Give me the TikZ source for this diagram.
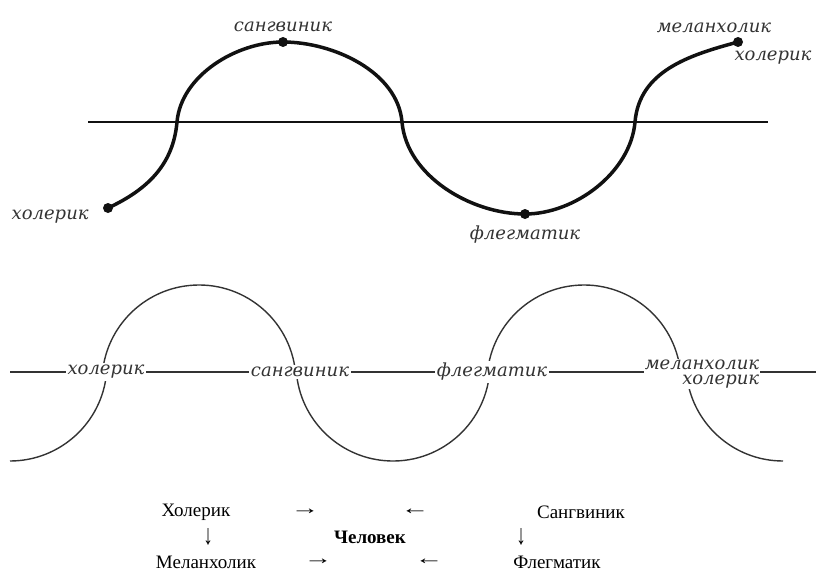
\documentclass[tikz,border=0pt]{standalone}
\usepackage{fontspec}
\setmainfont{Liberation Serif}
\newfontfamily\tempfont{DejaVu Serif}
\usepackage{xcolor}
\usetikzlibrary{positioning}
\definecolor{tempink}{HTML}{111111}
\definecolor{tempgray}{HTML}{333333}

\begin{document}
\begin{tikzpicture}[x=1pt,y=1pt,
  dot/.style={circle,fill=tempink,inner sep=0pt,minimum size=10pt},
  wave/.style={tempink,line width=3.5pt},
  axisline/.style={tempink,line width=2pt},
  lbl/.style={font=\tempfont\itshape\fontsize{18}{15}\selectfont,text=tempgray,inner sep=1pt},
  tag/.style={lbl,fill=white,inner sep=2pt},
  arcline/.style={tempgray,line width=1.4pt},
  word/.style={font=\fontsize{19}{19}\selectfont,text=black,inner sep=0pt}]
  \useasboundingbox (0,0) rectangle (816,-575);
  \coordinate (axl) at (88,-122);
  \coordinate (axr) at (768,-122);
  \draw[axisline] (axl) -- (axr);
  \node[dot] (chol) at (108,-208) {};
  \node[dot] (sang) at (283,-42) {};
  \node[dot] (fleg) at (525,-214) {};
  \node[dot] (mel) at (738,-42) {};
  \coordinate (c1) at (177,-122);
  \coordinate (c2) at (402,-122);
  \coordinate (c3) at (635,-122);
  \draw[wave] (chol.center) to[out=25,in=-95] (c1) to[out=85,in=180,looseness=0.9] (sang.center)
    to[out=0,in=95,looseness=0.9] (c2) to[out=-85,in=180,looseness=0.9] (fleg.center)
    to[out=0,in=-95,looseness=0.9] (c3) to[out=85,in=195] (mel.center);
  \node[lbl,left=13pt of chol,yshift=-9pt] (lchol) {холерик};
  \node[lbl,above=4pt of sang] (lsang) {сангвиник};
  \node[lbl,below=5pt of fleg] (lfleg) {флегматик};
  \node[lbl,above=3pt of mel,xshift=-24pt] (lmel) {меланхолик};
  \node[lbl,below=3pt of mel,xshift=35pt] (lchol2) {холерик};

  \coordinate (ml) at (10,-372);
  \coordinate (mr) at (816,-372);
  \draw[arcline] (ml) -- (mr);
  \draw[arcline] (199,-382) ++(6:97) arc[start angle=6,end angle=174,radius=97];
  \draw[arcline] (584,-382) ++(6:97) arc[start angle=6,end angle=174,radius=97];
  \draw[arcline] (10,-364) ++(-5:97) arc[start angle=-5,end angle=-90,radius=97];
  \draw[arcline] (393,-364) ++(-5:97) arc[start angle=-5,end angle=-175,radius=97];
  \draw[arcline] (783,-364) ++(-175:97) arc[start angle=-175,end angle=-90,radius=97];
  \node[tag] (t1) at (106,-372) {холерик};
  \node[tag] (t2) at (300,-372) {сангвиник};
  \node[tag] (t3) at (492,-372) {флегматик};
  \node[tag,align=right,inner sep=1pt] (t4) at (702,-374) {меланхолик\\холерик};

  \node[word] (w1) at (196,-512) {Холерик};
  \node[word] (a1) at (305,-512) {\scalebox{1.5}[1]{→}};
  \node[word] (a2) at (415,-512) {\scalebox{1.5}[1]{←}};
  \node[word] (w2) at (581,-512) {Сангвиник};
  \node[word] (d1) at (208,-537) {\scalebox{1}[1.5]{↓}};
  \node[word,font=\bfseries\fontsize{19}{19}\selectfont] (man) at (370,-537) {Человек};
  \node[word] (d2) at (521,-537) {\scalebox{1}[1.5]{↓}};
  \node[word] (w3) at (206,-562) {Меланхолик};
  \node[word] (a3) at (318,-562) {\scalebox{1.5}[1]{→}};
  \node[word] (a4) at (429,-562) {\scalebox{1.5}[1]{←}};
  \node[word] (w4) at (557,-562) {Флегматик};
\end{tikzpicture}
\end{document}
